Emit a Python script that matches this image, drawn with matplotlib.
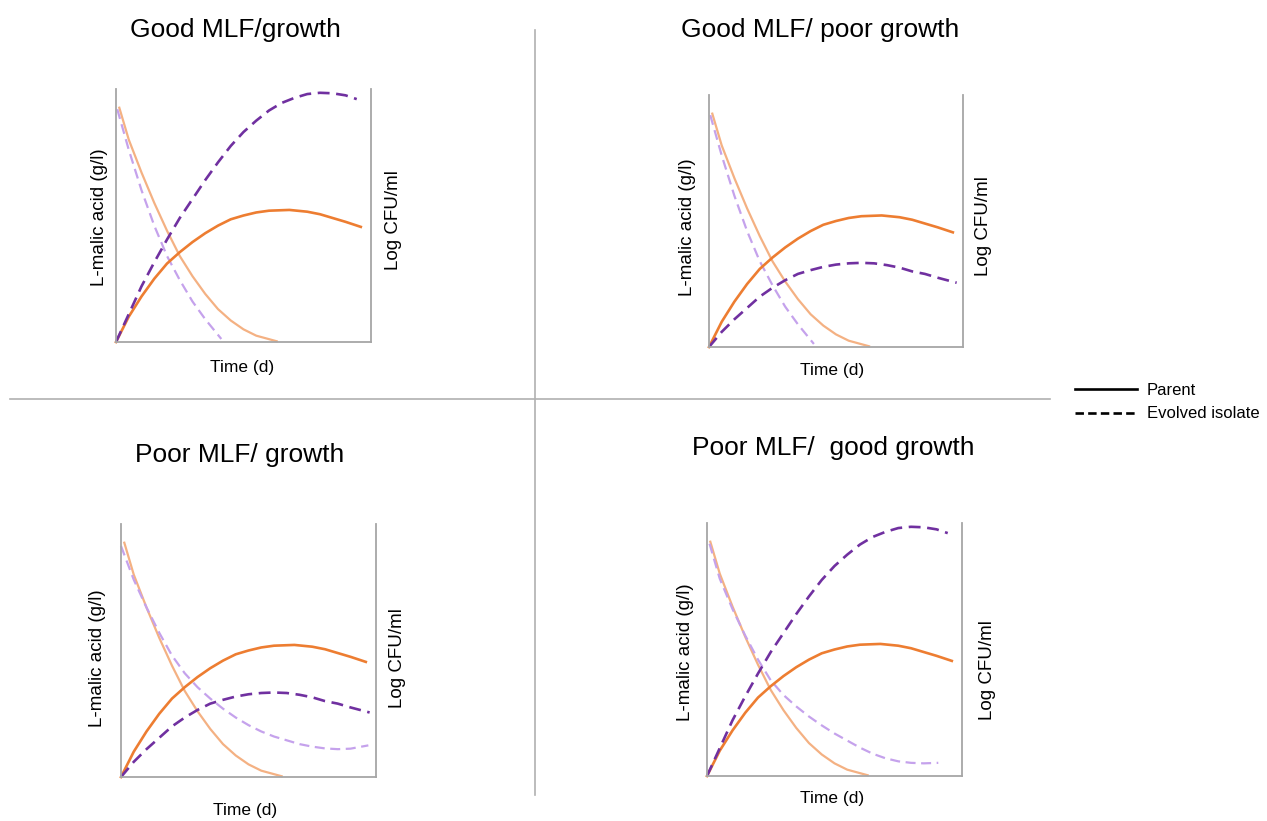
import matplotlib
matplotlib.use("Agg")
import matplotlib.pyplot as plt
from matplotlib.lines import Line2D

plt.rcParams['font.family'] = ['Liberation Sans', 'DejaVu Sans']

W, H = 1267, 821

# colours
light_orange = '#F4B183'
dark_orange = '#ED7D31'
light_purple = '#C5A2EC'
dark_purple = '#7030A0'

titles = ["Good MLF/growth", "Good MLF/ poor growth",
          "Poor MLF/ growth", "Poor MLF/  good growth"]

# curves, in fractions of each plot box
malic_parent_x = [0.013, 0.05, 0.10, 0.15, 0.20, 0.25, 0.30, 0.35, 0.40, 0.45, 0.50, 0.55, 0.63]
malic_parent_y = [0.926, 0.80, 0.67, 0.55, 0.44, 0.34, 0.26, 0.19, 0.13, 0.085, 0.05, 0.025, 0.003]

growth_parent_x = [0, 0.05, 0.10, 0.15, 0.20, 0.25, 0.30, 0.35, 0.40, 0.45, 0.50, 0.55,
                   0.60, 0.68, 0.75, 0.80, 0.85, 0.90, 0.96]
growth_parent_y = [0, 0.10, 0.18, 0.25, 0.31, 0.355, 0.395, 0.43, 0.46, 0.485, 0.50, 0.512,
                   0.519, 0.522, 0.515, 0.505, 0.49, 0.475, 0.455]

# evolved isolate, fast malic consumption
malic_fast_x = [0.005, 0.05, 0.10, 0.15, 0.20, 0.25, 0.30, 0.35, 0.413]
malic_fast_y = [0.92, 0.76, 0.60, 0.46, 0.34, 0.245, 0.16, 0.09, 0.012]

# evolved isolate, slow malic consumption (panels 3 and 4)
malic_slow3_x = [0.0, 0.05, 0.10, 0.15, 0.20, 0.25, 0.30, 0.35, 0.40, 0.45, 0.50,
                 0.55, 0.60, 0.65, 0.70, 0.75, 0.80, 0.85, 0.90, 0.97]
malic_slow3_y = [0.913, 0.78, 0.67, 0.57, 0.48, 0.41, 0.355, 0.31, 0.27, 0.235, 0.205,
                 0.18, 0.16, 0.145, 0.13, 0.12, 0.113, 0.11, 0.112, 0.125]
malic_slow4_x = [0.01, 0.05, 0.10, 0.15, 0.20, 0.25, 0.30, 0.35, 0.40, 0.45, 0.50,
                 0.55, 0.60, 0.65, 0.70, 0.75, 0.80, 0.85, 0.907]
malic_slow4_y = [0.918, 0.78, 0.66, 0.555, 0.46, 0.378, 0.32, 0.275, 0.235, 0.20, 0.168,
                 0.14, 0.112, 0.088, 0.07, 0.058, 0.052, 0.05, 0.052]

# evolved isolate growth
growth_good_x = [0, 0.05, 0.10, 0.15, 0.20, 0.25, 0.30, 0.35, 0.40, 0.45, 0.50, 0.55,
                 0.60, 0.65, 0.70, 0.75, 0.80, 0.85, 0.90, 0.944]
growth_good_y = [0, 0.11, 0.22, 0.315, 0.405, 0.49, 0.565, 0.64, 0.71, 0.775, 0.83, 0.875,
                 0.915, 0.945, 0.965, 0.98, 0.985, 0.983, 0.975, 0.96]
growth_poor_x = [0, 0.05, 0.10, 0.15, 0.20, 0.25, 0.30, 0.35, 0.40, 0.45, 0.50, 0.55,
                 0.60, 0.65, 0.70, 0.75, 0.80, 0.85, 0.90, 0.975]
growth_poor_y = [0, 0.06, 0.11, 0.155, 0.20, 0.235, 0.265, 0.29, 0.305, 0.318, 0.327, 0.332,
                 0.334, 0.332, 0.325, 0.315, 0.30, 0.29, 0.275, 0.255]

evolved_malic = [(malic_fast_x, malic_fast_y), (malic_fast_x, malic_fast_y),
                 (malic_slow3_x, malic_slow3_y), (malic_slow4_x, malic_slow4_y)]
evolved_growth = [(growth_good_x, growth_good_y), (growth_poor_x, growth_poor_y),
                  (growth_poor_x, growth_poor_y), (growth_good_x, growth_good_y)]

# plot boxes in pixels: left, right, top, bottom
boxes = [(116, 371, 89, 342), (709, 963, 95, 347),
         (121, 376, 524, 777), (707, 962, 523, 776)]
title_pos = [(235, 30), (820, 30), (240, 455), (833, 448)]
ylab_pos = [(100, 217), (688, 227), (97, 658), (685, 652)]
rlab_pos = [(393, 220), (983, 226), (398, 658), (987, 670)]
xlab_pos = [(242, 367), (832, 370), (245, 810), (832, 798)]


def fx(px):
    return px / W


def fy(py):
    return 1 - py / H


fig = plt.figure(figsize=(W / 100, H / 100), dpi=100)

dash = (0, (4.5, 2.5))
lw = 1.6
for i in range(4):
    L, R, T, B = boxes[i]
    ax = fig.add_axes([fx(L), fy(B), (R - L) / W, (B - T) / H])
    ax.set_xlim(0, 1)
    ax.set_ylim(0, 1)
    ax.set_xticks([])
    ax.set_yticks([])
    ax.spines['top'].set_visible(False)
    for s in ['left', 'right', 'bottom']:
        ax.spines[s].set_color('#A6A6A6')
        ax.spines[s].set_linewidth(1.3)
    ax.plot(malic_parent_x, malic_parent_y, color=light_orange, lw=lw, clip_on=False)
    ax.plot(*evolved_malic[i], color=light_purple, lw=lw, ls=dash, clip_on=False)
    ax.plot(growth_parent_x, growth_parent_y, color=dark_orange, lw=lw + 0.3, clip_on=False)
    ax.plot(*evolved_growth[i], color=dark_purple, lw=lw + 0.3, ls=dash, clip_on=False)

    fig.text(fx(title_pos[i][0]), fy(title_pos[i][1]), titles[i], fontsize=19,
             ha='center', va='center')
    fig.text(fx(ylab_pos[i][0]), fy(ylab_pos[i][1]), "L-malic acid (g/l)", fontsize=13.5,
             rotation=90, ha='center', va='center')
    fig.text(fx(rlab_pos[i][0]), fy(rlab_pos[i][1]), "Log CFU/ml", fontsize=13.5,
             rotation=90, ha='center', va='center')
    fig.text(fx(xlab_pos[i][0]), fy(xlab_pos[i][1]), "Time (d)", fontsize=12.5,
             ha='center', va='center')

# quadrant dividers
fig.add_artist(Line2D([fx(535), fx(535)], [fy(30), fy(795)], color='#B0B0B0', lw=1.2))
fig.add_artist(Line2D([fx(10), fx(1050)], [fy(399), fy(399)], color='#B0B0B0', lw=1.2))

handles = [Line2D([], [], color='black', lw=1.9),
           Line2D([], [], color='black', lw=1.9, ls=(0, (3.2, 1.6)))]
fig.legend(handles, ["Parent", "Evolved isolate"], loc='upper left',
           bbox_to_anchor=(fx(1075), fy(383)), frameon=False, fontsize=12,
           handlelength=3.7, handletextpad=0.6, labelspacing=0.5, borderpad=0,
           borderaxespad=0)

fig.savefig("out.png", dpi=100)
